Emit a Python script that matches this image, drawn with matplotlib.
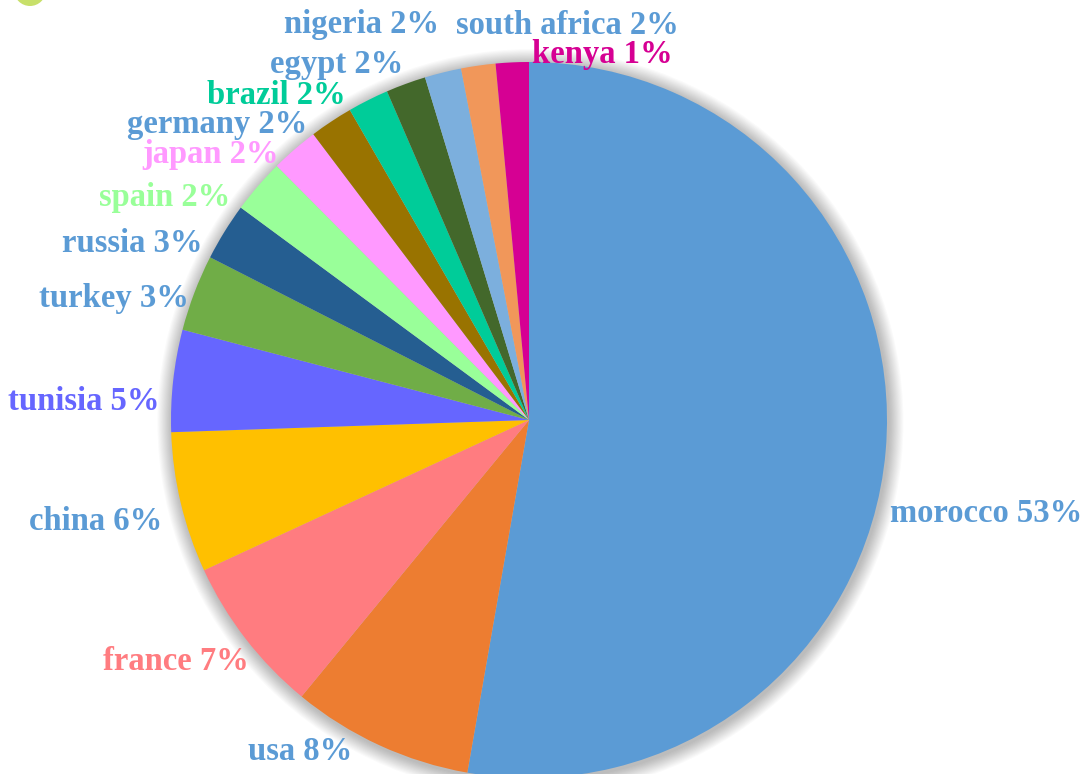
import matplotlib
matplotlib.use("Agg")
import matplotlib.pyplot as plt
from matplotlib.patches import Circle, Ellipse

countries = ["morocco", "usa", "france", "china", "tunisia", "turkey", "russia",
             "spain", "japan", "germany", "brazil", "egypt", "nigeria",
             "south africa", "kenya"]
shares = [52.75, 8.2, 7.15, 6.35, 4.6, 3.45, 2.6, 2.45, 2.15, 1.95, 1.85,
          1.8, 1.65, 1.55, 1.49]
slice_colors = ["#5B9BD5", "#ED7D31", "#FF7C80", "#FFC000", "#6666FF", "#70AD47",
                "#255E91", "#99FF99", "#FF99FF", "#997300", "#00CC99", "#43682B",
                "#7CAFDD", "#F1975A", "#D60093"]
label_colors = ["#5B9BD5", "#5B9BD5", "#FF7C80", "#5B9BD5", "#6666FF", "#5B9BD5",
                "#5B9BD5", "#99FF99", "#FF99FF", "#5B9BD5", "#00CC99", "#5B9BD5",
                "#5B9BD5", "#5B9BD5", "#D60093"]
# label anchor positions in pixels (x, y, horizontal alignment)
label_pos = [(890, 513, "left"), (352, 752, "right"), (249, 662, "right"),
             (162, 521, "right"), (160, 401, "right"), (189, 299, "right"),
             (202, 243, "right"), (230, 197, "right"), (279, 154, "right"),
             (307, 125, "right"), (346, 96, "right"), (403, 65, "right"),
             (439, 25, "right"), (679, 25, "right"), (673, 54, "right")]

W, H = 1092, 774
fig = plt.figure(figsize=(W / 100, H / 100), dpi=100)
fig.patch.set_facecolor("white")

cx, cy, r = 529, 420, 358
ax = fig.add_axes([(cx - r) / W, (H - cy - r) / H, 2 * r / W, 2 * r / H])
ax.set_xlim(-1, 1)
ax.set_ylim(-1, 1)
ax.set_aspect("equal")
ax.axis("off")

# soft shadow around the pie
for k in range(14):
    ax.add_patch(Circle((0.004, -0.006), 1.0 + 0.003 * (14 - k), color="#000000",
                        alpha=0.02, lw=0, zorder=0, clip_on=False))

wedges, _ = ax.pie(shares, colors=slice_colors, startangle=90, counterclock=False,
                   radius=1.0, wedgeprops=dict(linewidth=0), frame=False)
for w in wedges:
    w.set_clip_on(False)
    w.set_zorder(2)
ax.set_xlim(-1, 1)
ax.set_ylim(-1, 1)

for name, v, col, (px, py, ha) in zip(countries, shares, label_colors, label_pos):
    fig.text(px / W, 1 - py / H, f"{name} {round(v)}%", color=col, ha=ha, va="center",
             fontsize=23.5, fontweight="bold", family="Liberation Serif")

# decorative green circle at top-left corner
fig.patches.append(Ellipse((30 / W, 1 + 10 / H), 32 / W, 32 / H,
                           transform=fig.transFigure, color="#C8E06A", lw=0))

fig.savefig("out.png", dpi=100, facecolor="white")
